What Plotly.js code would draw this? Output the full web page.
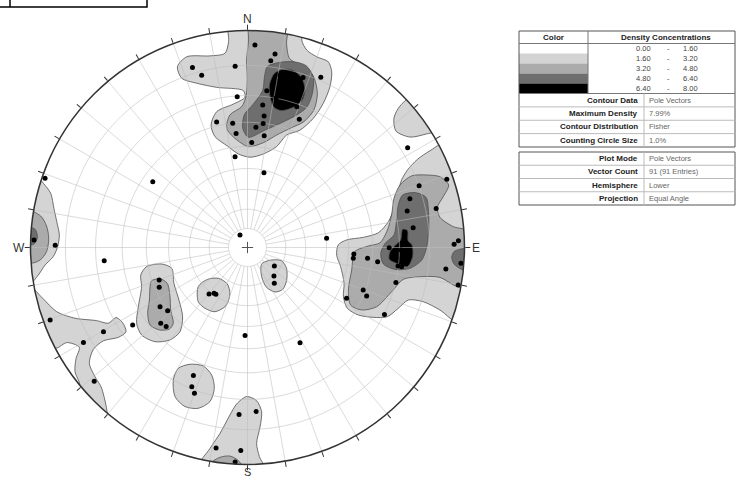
<!DOCTYPE html>
<html><head><meta charset="utf-8">
<script src="https://cdn.plot.ly/plotly-3.0.1.min.js"></script>
<style>html,body{margin:0;padding:0;background:#fff}</style>
</head><body><div id="chart" style="width:736px;height:481px"></div>
<script>
// ---- Pole vectors (trend, plunge in degrees) ----
const poleTrend = [343.0,345.1,356.1,2.1,8.1,7.1,356.1,7.0,18.1,23.3,6.1,19.3,346.2,353.2,7.2,7.2,4.0,22.0,354.3,8.5,2.3,352.2,12.4,304.8,329.0,83.4,124.6,137.1,143.2,219.6,216.2,214.1,249.8,245.7,235.9,231.6,228.9,225.8,236.0,181.6,151.1,288.9,270.7,264.7,249.8,239.7,239.9,228.9,202.9,201.8,200.0,182.9,177.0,188.9,181.9,58.1,71.1,70.2,73.3,77.1,78.3,83.2,88.2,89.1,90.1,93.5,95.8,95.1,96.2,97.1,94.2,96.2,103.3,100.1,110.2,112.1,117.1,116.1,10.7,14.9,13.6,10.8,17.3,15.9,90.9,94.0,95.3,97.0,91.6,272.0,183.3];
const polePlunge = [8.1,11.2,10.1,3.9,6.0,8.1,20.3,17.9,11.0,9.0,23.1,21.0,28.4,30.1,27.2,30.1,31.9,25.0,34.3,35.0,38.3,44.2,51.1,34.0,82.3,49.7,72.9,69.7,66.7,58.9,60.7,60.9,43.1,41.9,38.1,39.7,34.1,34.8,24.9,45.8,36.8,0.8,6.9,22.9,1.8,14.9,7.7,3.7,24.7,20.7,18.9,14.8,15.8,3.8,3.8,8.0,1.7,9.9,14.0,15.9,6.8,14.9,1.6,2.8,23.7,37.7,37.8,31.9,27.8,18.8,0.8,4.8,19.8,0.8,30.8,28.7,35.7,19.8,12.1,12.8,17.2,19.9,17.3,21.4,19.4,21.1,17.8,20.1,17.4,0.9,0.6];

// ---- Density legend ----
const densityLow = ['0.00','1.60','3.20','4.80','6.40'];
const densityHigh = ['1.60','3.20','4.80','6.40','8.00'];
const densityColors = ['#ffffff','#d4d4d4','#ababab','#6e6e6e','#000000'];
const contourInfoLabels = ['Contour Data','Maximum Density','Contour Distribution','Counting Circle Size'];
const contourInfoValues = ['Pole Vectors','7.99%','Fisher','1.0%'];
const plotInfoLabels = ['Plot Mode','Vector Count','Hemisphere','Projection'];
const plotInfoValues = ['Pole Vectors','91 (91 Entries)','Lower','Equal Angle'];
const compassTrend = [0, 90, 180, 270];
const compassText = ['N', 'E', 'S', 'W'];

// ---- Density contour boundaries, in net coordinates (east, north; primitive radius = 1) ----
const contoursLevel1 = [
 // N cluster
 [[-0.087,1.033],[-0.087,0.949],[-0.104,0.895],[-0.173,0.883],[-0.280,0.879],[-0.323,0.833],[-0.303,0.780],[-0.234,0.757],[-0.142,0.738],[-0.019,0.723],[-0.012,0.692],[-0.065,0.661],[-0.142,0.626],[-0.168,0.565],[-0.150,0.511],[-0.093,0.468],[-0.042,0.431],[0.012,0.416],[0.073,0.431],[0.134,0.465],[0.180,0.518],[0.242,0.541],[0.303,0.595],[0.349,0.664],[0.380,0.741],[0.388,0.810],[0.372,0.856],[0.319,0.879],[0.273,0.910],[0.250,0.956],[0.260,1.033],[0.012,1.079]],
 // E cluster
 [[0.941,0.495],[0.841,0.446],[0.783,0.406],[0.737,0.357],[0.710,0.311],[0.692,0.250],[0.675,0.180],[0.649,0.119],[0.603,0.068],[0.534,0.047],[0.457,0.035],[0.418,0.012],[0.411,-0.035],[0.429,-0.088],[0.445,-0.165],[0.442,-0.227],[0.460,-0.280],[0.511,-0.311],[0.580,-0.322],[0.644,-0.319],[0.695,-0.280],[0.741,-0.242],[0.810,-0.250],[0.887,-0.288],[0.979,-0.349],[1.102,-0.027],[1.056,0.280]],
 // NE small patch
 [[0.772,0.703],[0.703,0.652],[0.675,0.597],[0.684,0.537],[0.749,0.509],[0.823,0.523],[0.910,0.551]],
 // W edge
 [[-0.979,0.334],[-0.941,0.296],[-0.907,0.250],[-0.892,0.180],[-0.879,0.119],[-0.867,0.058],[-0.875,0.004],[-0.895,-0.042],[-0.933,-0.081],[-0.964,-0.127],[-1.002,-0.165],[-1.048,0.081]],
 // SW region
 [[-1.018,-0.165],[-0.944,-0.234],[-0.879,-0.296],[-0.795,-0.326],[-0.695,-0.337],[-0.641,-0.349],[-0.606,-0.323],[-0.576,-0.346],[-0.560,-0.388],[-0.595,-0.414],[-0.664,-0.430],[-0.710,-0.469],[-0.729,-0.534],[-0.703,-0.595],[-0.672,-0.649],[-0.649,-0.810],[-0.787,-0.749],[-0.772,-0.634],[-0.795,-0.572],[-0.790,-0.511],[-0.775,-0.460],[-0.833,-0.438],[-0.885,-0.465],[-0.987,-0.411]],
 // left blob
 [[-0.465,-0.088],[-0.396,-0.076],[-0.349,-0.096],[-0.339,-0.165],[-0.316,-0.242],[-0.299,-0.319],[-0.311,-0.388],[-0.357,-0.426],[-0.426,-0.434],[-0.488,-0.403],[-0.511,-0.349],[-0.503,-0.273],[-0.488,-0.180],[-0.492,-0.127]],
 // small blob SW of centre
 [[-0.227,-0.180],[-0.185,-0.147],[-0.134,-0.142],[-0.093,-0.168],[-0.081,-0.214],[-0.099,-0.268],[-0.150,-0.296],[-0.196,-0.280],[-0.227,-0.250]],
 // small blob SE of centre
 [[0.065,-0.076],[0.107,-0.058],[0.157,-0.061],[0.180,-0.096],[0.180,-0.153],[0.162,-0.193],[0.127,-0.205],[0.088,-0.184],[0.065,-0.134]],
 // blob SSW
 [[-0.342,-0.611],[-0.319,-0.557],[-0.265,-0.538],[-0.204,-0.546],[-0.165,-0.588],[-0.153,-0.649],[-0.173,-0.710],[-0.227,-0.741],[-0.288,-0.733],[-0.334,-0.687]],
 // S edge
 [[-0.234,-1.025],[-0.173,-0.926],[-0.127,-0.857],[-0.081,-0.772],[-0.050,-0.721],[-0.004,-0.687],[0.042,-0.706],[0.065,-0.757],[0.058,-0.826],[0.042,-0.903],[0.055,-0.964],[0.088,-1.041]]
];
const contoursLevel2 = [
 [[0.008,1.048],[0.005,0.956],[-0.004,0.864],[-0.001,0.780],[-0.007,0.695],[-0.027,0.649],[-0.081,0.611],[-0.096,0.549],[-0.058,0.503],[0.004,0.465],[0.073,0.483],[0.134,0.518],[0.196,0.549],[0.260,0.580],[0.306,0.634],[0.322,0.710],[0.306,0.784],[0.273,0.826],[0.227,0.849],[0.193,0.872],[0.180,0.941],[0.184,1.048]],
 [[0.756,0.330],[0.826,0.334],[0.887,0.326],[0.927,0.288],[0.902,0.234],[0.875,0.185],[0.887,0.139],[0.949,0.096],[1.025,0.073],[1.041,-0.058],[1.025,-0.188],[0.964,-0.180],[0.887,-0.138],[0.803,-0.134],[0.718,-0.147],[0.664,-0.204],[0.595,-0.273],[0.526,-0.288],[0.475,-0.265],[0.465,-0.196],[0.480,-0.104],[0.495,-0.019],[0.557,0.007],[0.611,0.022],[0.645,0.081],[0.664,0.150],[0.675,0.227],[0.703,0.288]],
 [[-1.018,0.172],[-0.953,0.145],[-0.926,0.099],[-0.916,0.042],[-0.926,-0.019],[-0.956,-0.058],[-1.002,-0.070]],
 [[-0.442,-0.153],[-0.403,-0.144],[-0.370,-0.165],[-0.357,-0.227],[-0.354,-0.288],[-0.342,-0.349],[-0.360,-0.376],[-0.406,-0.380],[-0.449,-0.357],[-0.460,-0.303],[-0.452,-0.242],[-0.449,-0.180]],
 [[-0.170,-0.995],[-0.127,-0.967],[-0.081,-0.961],[-0.042,-0.982],[-0.019,-1.025],[-0.173,-1.041]]
];
const contoursLevel3 = [
 [[0.091,0.833],[0.142,0.852],[0.211,0.856],[0.270,0.838],[0.303,0.787],[0.299,0.710],[0.273,0.646],[0.227,0.611],[0.157,0.575],[0.081,0.541],[0.004,0.508],[-0.022,0.549],[-0.015,0.611],[0.027,0.661],[0.070,0.723],[0.078,0.784]],
 [[0.715,0.242],[0.772,0.253],[0.823,0.231],[0.834,0.165],[0.835,0.081],[0.826,0.004],[0.803,-0.058],[0.749,-0.096],[0.680,-0.101],[0.626,-0.076],[0.614,-0.027],[0.634,0.019],[0.675,0.058],[0.687,0.127],[0.695,0.196]],
 [[0.952,-0.019],[0.979,-0.008],[1.041,-0.004],[1.041,-0.111],[0.987,-0.101],[0.952,-0.076],[0.941,-0.045]],
 [[-1.010,0.093],[-0.979,0.084],[-0.968,0.047],[-0.984,0.016],[-1.010,0.013]]
];
const contoursLevel4 = [
 [[0.122,0.800],[0.162,0.821],[0.214,0.815],[0.251,0.780],[0.265,0.726],[0.251,0.677],[0.211,0.646],[0.157,0.631],[0.122,0.646],[0.104,0.695],[0.101,0.749]],
 [[0.715,0.084],[0.737,0.078],[0.740,0.031],[0.758,0.012],[0.761,-0.042],[0.737,-0.088],[0.687,-0.073],[0.653,-0.054],[0.657,-0.019],[0.687,0.016],[0.706,0.035]]
];

// ---- helpers ----
const D2R = Math.PI/180;
const plungeToR = p => Math.tan((90 - p) / 2 * D2R); // equal-angle projection
function polyToPolar(poly){
  const r=[], t=[];
  poly.forEach(([x,y])=>{ r.push(Math.hypot(x,y)); t.push((Math.atan2(x,y)/D2R+360)%360); });
  r.push(r[0]); t.push(t[0]);
  return {r,t};
}
const traces = [];
const levels = [contoursLevel1, contoursLevel2, contoursLevel3, contoursLevel4];
levels.forEach((lv, i) => {
  lv.forEach(poly => {
    const p = polyToPolar(poly);
    traces.push({type:'scatterpolar', mode:'lines', r:p.r, theta:p.t, fill:'toself',
      fillcolor: densityColors[i+1], line:{color:'#505050', width:0.8, shape:'spline', smoothing:0.8},
      hoverinfo:'skip'});
  });
});

// grid: dip circles every 10 deg and radial lines every 10 deg
const gridPlunges = [80,70,60,50,40,30,20,10];
const gr=[], gt=[];
gridPlunges.forEach(p => { const rr = plungeToR(p); for (let a=0;a<=360;a+=2){ gr.push(rr); gt.push(a);} gr.push(null); gt.push(null); });
const innerR = plungeToR(80);
for (let a=0;a<360;a+=10){ gr.push(innerR, 1, null); gt.push(a, a, null); }
traces.push({type:'scatterpolar', mode:'lines', r:gr, theta:gt, line:{color:'rgba(190,190,190,0.55)', width:1}, hoverinfo:'skip', connectgaps:false});

// centre cross
const crossR = 0.026;
traces.push({type:'scatterpolar', mode:'lines', r:[crossR,crossR,null,crossR,crossR], theta:[0,180,null,90,270], line:{color:'#555', width:1}, hoverinfo:'skip'});

// poles
traces.push({type:'scatterpolar', mode:'markers', r: polePlunge.map(plungeToR), theta: poleTrend,
  marker:{color:'#000', size:5}, hoverinfo:'skip'});

// ---- layout ----
const W=736, H=481;
const X = px => px/W, Y = py => 1 - py/H;
const polarDomX = [30.5/W, 464.5/W], polarDomY = [1-464.5/H, 1-30.5/H];
const shapes = [], annotations = [];
function rect(x0,y0,x1,y1,opts){ shapes.push(Object.assign({type:'rect', xref:'paper', yref:'paper', x0:X(x0), x1:X(x1), y0:Y(y1), y1:Y(y0)}, opts)); }
function line(x0,y0,x1,y1,color,w){ shapes.push({type:'line', xref:'paper', yref:'paper', x0:X(x0), x1:X(x1), y0:Y(y0), y1:Y(y1), line:{color, width:w}}); }
const valFont = {family:'Liberation Sans, Arial, sans-serif', size:7.5, color:'#666'};
function text(t,x,y,anchor,opts){ annotations.push(Object.assign({text:t, xref:'paper', yref:'paper', x:X(x), y:Y(y), xanchor:anchor, yanchor:'middle', showarrow:false, font:valFont}, opts)); }

// compass letters placed just outside the primitive circle (derived from the polar domain)
const cxPx = (polarDomX[0]+polarDomX[1])/2*W, cyPx = (1-(polarDomY[0]+polarDomY[1])/2)*H;
const Rpx = (polarDomX[1]-polarDomX[0])*W/2;
compassTrend.forEach((t,i)=>{
  const k = t === 180 ? 1.035 : 1.053;   // S kept inside the page edge
  text(compassText[i], cxPx + k*Rpx*Math.sin(t*D2R), cyPx - k*Rpx*Math.cos(t*D2R), 'center',
    {font:{family:'Liberation Sans, Arial, sans-serif', size: t === 180 ? 11 : 12, color:'#333'}});
});

// top-left clipped box
rect(-3,-5,147,7,{line:{color:'#000', width:1.5}, fillcolor:'rgba(0,0,0,0)'});
line(10,-5,10,7,'#000',1.5);

// table 1
const t1L=519, t1R=735, t1T=31, hdrB=43.5, colB=93.5, t1B=147, colSplit=588, valSplit=644;
const rowH = (colB-hdrB)/5;
densityColors.forEach((c,i)=>{ if(i>0) rect(t1L, hdrB+rowH*i, colSplit, hdrB+rowH*(i+1), {line:{width:0}, fillcolor:c}); });
rect(t1L,t1T,t1R,t1B,{line:{color:'#555', width:1}, fillcolor:'rgba(0,0,0,0)'});
line(t1L,hdrB,t1R,hdrB,'#777',1);
line(colSplit,t1T,colSplit,colB,'#777',1);
line(t1L,colB,t1R,colB,'#777',1);
const infoH = (t1B-colB)/4;
for(let k=1;k<4;k++) line(t1L,colB+infoH*k,t1R,colB+infoH*k,'#bbb',1);
line(valSplit,colB,valSplit,t1B,'#bbb',1);
const bold = {family:'Liberation Sans, Arial, sans-serif', size:8, color:'#222'};
text('<b>Color</b>', (t1L+colSplit)/2, (t1T+hdrB)/2, 'center', {font:bold});
text('<b>Density Concentrations</b>', 666, (t1T+hdrB)/2, 'center', {font:bold});
densityLow.forEach((v,i)=>{
  const yy = hdrB + rowH*(i+0.5);
  const f = {family:'Liberation Sans, Arial, sans-serif', size:7.5, color:'#444'};
  text(v, 653, yy, 'right', {font:f});
  text('-', 668, yy, 'center', {font:f});
  text(densityHigh[i], 681, yy, 'left', {font:f});
});
contourInfoLabels.forEach((l,i)=>{
  const yy = colB + infoH*(i+0.5);
  text('<b>'+l+'</b>', valSplit-4, yy, 'right', {font:bold});
  text(contourInfoValues[i], valSplit+3, yy, 'left');
});
// table 2
const t2T=152, t2B=205;
const r2H=(t2B-t2T)/4;
rect(t1L,t2T,t1R,t2B,{line:{color:'#555', width:1}, fillcolor:'rgba(0,0,0,0)'});
for(let k=1;k<4;k++) line(t1L,t2T+r2H*k,t1R,t2T+r2H*k,'#bbb',1);
line(valSplit,t2T,valSplit,t2B,'#bbb',1);
plotInfoLabels.forEach((l,i)=>{
  const yy = t2T + r2H*(i+0.5);
  text('<b>'+l+'</b>', valSplit-4, yy, 'right', {font:bold});
  text(plotInfoValues[i], valSplit+3, yy, 'left');
});

const tickvals = [];
for (let a=0;a<360;a+=10){ tickvals.push(a); }

const layout = {
  width:W, height:H, margin:{l:0,r:0,t:0,b:0}, paper_bgcolor:'#fff', showlegend:false,
  polar:{
    domain:{x:polarDomX, y:polarDomY},
    bgcolor:'#fff',
    radialaxis:{visible:false, range:[0,1], showgrid:false},
    angularaxis:{rotation:90, direction:'clockwise', tickmode:'array', tickvals, showticklabels:false,
      ticks:'outside', ticklen:5, tickwidth:1, tickcolor:'#333', showgrid:false,
      showline:true, linecolor:'#333', linewidth:1.5}
  },
  shapes, annotations
};
Plotly.newPlot('chart', traces, layout, {staticPlot:true, displayModeBar:false});
</script>
</body></html>
